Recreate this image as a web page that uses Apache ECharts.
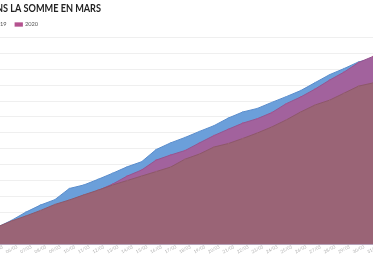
<!DOCTYPE html>
<html>
<head>
<meta charset="utf-8">
<script src="https://cdn.jsdelivr.net/npm/echarts@6/dist/echarts.min.js"></script>
<style>html,body{margin:0;padding:0;background:#fff}#c{width:373px;height:257px}</style>
</head>
<body>
<div id="c"></div>
<script>
const days = ["05/03","06/03","07/03","08/03","09/03","10/03","11/03","12/03","13/03","14/03","15/03","16/03","17/03","18/03","19/03","20/03","21/03","22/03","23/03","24/03","25/03","26/03","27/03","28/03","29/03","30/03","31/03"];
const deaths2019 = [53,75,101,123,140,175,186,204,223,243,259,297,318,335,354,372,396,415,426,445,463,482,507,532,551,572,582];
const deaths2020 = [51,70,86,101,120,136,151,169,189,214,233,264,280,294,318,341,361,380,394,413,441,462,487,515,540,570,589];
const deaths2018 = [54,73,89,106,125,139,155,170,186,200,214,228,242,267,283,305,316,332,349,368,390,415,437,452,474,496,506];
const legendNames = ["2018","2019","2020"];
const titleText = "DÉCÈS CUMULÉS DANS LA SOMME EN MARS";

const chart = echarts.init(document.getElementById('c'), null, {renderer:'canvas'});
function areaSeries(name, data, fill, line, legendColor, z){
  return {
    name, type:'line', data, z,
    symbol:'circle', symbolSize:1.5, showSymbol:true,
    itemStyle:{color:legendColor},
    lineStyle:{color:line, width:1},
    areaStyle:{color:fill, opacity:1},
    emphasis:{disabled:true}, animation:false
  };
}
chart.setOption({
  animation:false,
  graphic:[{type:'text', x:101, y:3, scaleX:0.87, silent:true,
    style:{text:titleText, align:'right', verticalAlign:'top',
      font:'bold 10.5px Lato, "Noto Sans", sans-serif', fill:'#222'}}],
  legend:{data:legendNames, left:-48.4, top:21.5, padding:0, itemGap:8, itemWidth:8.3, itemHeight:4.3,
    icon:'rect', itemStyle:{borderWidth:0},
    textStyle:{fontFamily:'Lato', fontSize:5.7, color:'#555', padding:[0,0,0,-3]}},
  grid:{left:-2.95, right:0, top:37, bottom:12.7, containLabel:false, outerBoundsMode:'none'},
  xAxis:{type:'category', data:days, boundaryGap:false,
    axisTick:{show:false},
    axisLine:{lineStyle:{color:'#d8cdd2', width:1}},
    axisLabel:{interval:0, rotate:28, fontSize:4.5, color:'#b0b0b0', align:'center', verticalAlign:'middle', margin:5, fontFamily:'Lato'}},
  yAxis:{type:'value', min:0, max:650, interval:50,
    axisLabel:{show:false}, axisLine:{show:false}, axisTick:{show:false},
    splitLine:{lineStyle:{color:'#efefef', width:1}}},
  series:[
    areaSeries('2019', deaths2019, '#6b9fda', '#5a8ccb', '#6b9fda', 2),
    areaSeries('2020', deaths2020, '#a2629d', '#955590', '#b4528f', 3),
    areaSeries('2018', deaths2018, '#9a6476', '#8d5869', '#9a6476', 4)
  ]
});
</script>
</body>
</html>
